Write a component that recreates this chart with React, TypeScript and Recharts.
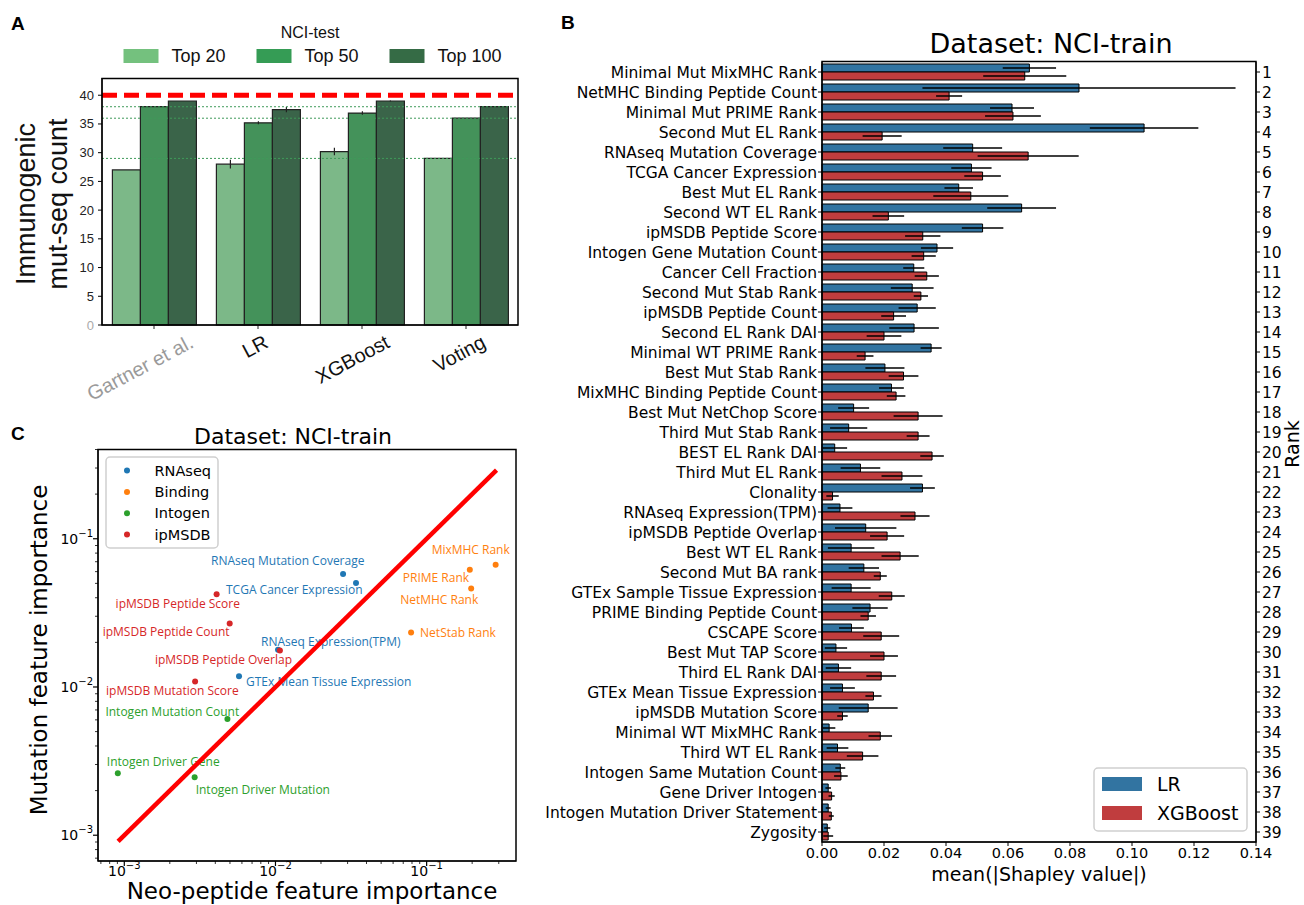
import React from 'react';
import {
    BarChart, Bar, XAxis, YAxis, ReferenceLine, ErrorBar, ScatterChart, Scatter
} from 'recharts';

// ---------- Panel A: immunogenic mut-seq counts on NCI-test ----------
const methods = ['Gartner et al.', 'LR', 'XGBoost', 'Voting'];
const top20 = [27, 28, 30.2, 29];
const top20Err = [0, 0.75, 0.65, 0];
const top50 = [38, 35.2, 36.9, 36];
const top50Err = [0, 0.25, 0.3, 0];
const top100 = [39, 37.5, 39, 38];
const top100Err = [0, 0.45, 0.1, 0];
const countTicks = [0, 5, 10, 15, 20, 25, 30, 35, 40];
const totalImmunogenic = 40;

// ---------- Panel B: mean |Shapley value| per feature ----------
const features = [
    'Minimal Mut MixMHC Rank', 'NetMHC Binding Peptide Count', 'Minimal Mut PRIME Rank', 'Second Mut EL Rank',
    'RNAseq Mutation Coverage', 'TCGA Cancer Expression', 'Best Mut EL Rank', 'Second WT EL Rank',
    'ipMSDB Peptide Score', 'Intogen Gene Mutation Count', 'Cancer Cell Fraction', 'Second Mut Stab Rank',
    'ipMSDB Peptide Count', 'Second EL Rank DAI', 'Minimal WT PRIME Rank', 'Best Mut Stab Rank',
    'MixMHC Binding Peptide Count', 'Best Mut NetChop Score', 'Third Mut Stab Rank', 'BEST EL Rank DAI',
    'Third Mut EL Rank', 'Clonality', 'RNAseq Expression(TPM)', 'ipMSDB Peptide Overlap',
    'Best WT EL Rank', 'Second Mut BA rank', 'GTEx Sample Tissue Expression', 'PRIME Binding Peptide Count',
    'CSCAPE Score', 'Best Mut TAP Score', 'Third EL Rank DAI', 'GTEx Mean Tissue Expression',
    'ipMSDB Mutation Score', 'Minimal WT MixMHC Rank', 'Third WT EL Rank', 'Intogen Same Mutation Count',
    'Gene Driver Intogen', 'Intogen Mutation Driver Statement', 'Zygosity',
];
const lrShap = [
    0.0669, 0.0829, 0.0613, 0.1039, 0.0486, 0.0482, 0.0441, 0.0644, 0.0518, 0.0371,
    0.0296, 0.0291, 0.0307, 0.0297, 0.0352, 0.0203, 0.0224, 0.0102, 0.0086, 0.0041,
    0.0124, 0.0324, 0.0058, 0.0141, 0.0094, 0.0135, 0.0094, 0.0155, 0.0095, 0.0045,
    0.0053, 0.0066, 0.0149, 0.0023, 0.005, 0.0059, 0.002, 0.002, 0.0017,
];
const lrShapErr = [
    0.0086, 0.0505, 0.0071, 0.0175, 0.0095, 0.0065, 0.0046, 0.0111, 0.0067, 0.0052,
    0.0034, 0.0069, 0.006, 0.008, 0.0034, 0.0063, 0.004, 0.005, 0.006, 0.004,
    0.0064, 0.004, 0.004, 0.0099, 0.0075, 0.0049, 0.0063, 0.0057, 0.004, 0.0036,
    0.0041, 0.004, 0.0095, 0.002, 0.0035, 0.0016, 0.0009, 0.0008, 0.001,
];
const xgbShap = [
    0.0654, 0.041, 0.0616, 0.0194, 0.0665, 0.0518, 0.048, 0.0214, 0.0325, 0.0328,
    0.0338, 0.0319, 0.0231, 0.02, 0.0139, 0.0263, 0.0239, 0.031, 0.031, 0.0355,
    0.0258, 0.0034, 0.03, 0.021, 0.0252, 0.0188, 0.0225, 0.0149, 0.0191, 0.02,
    0.0191, 0.0166, 0.0066, 0.0188, 0.0131, 0.0061, 0.0031, 0.003, 0.002,
];
const xgbShapErr = [
    0.0134, 0.0042, 0.009, 0.0063, 0.0163, 0.0059, 0.0121, 0.0051, 0.0057, 0.0039,
    0.0039, 0.0023, 0.004, 0.0056, 0.0027, 0.0048, 0.003, 0.0079, 0.0037, 0.0038,
    0.0066, 0.002, 0.0047, 0.0055, 0.006, 0.0021, 0.0042, 0.0025, 0.0058, 0.0045,
    0.0048, 0.0026, 0.0017, 0.0038, 0.0051, 0.0022, 0.001, 0.0008, 0.0016,
];
const shapTicks = [0, 0.02, 0.04, 0.06, 0.08, 0.1, 0.12, 0.14];

// ---------- Panel C: neo-peptide vs mutation feature importance ----------
const rnaseqNames = ['RNAseq Mutation Coverage', 'TCGA Cancer Expression', 'RNAseq Expression(TPM)', 'GTEx Mean Tissue Expression'];
const rnaseqNeo = [0.028, 0.0341, 0.0104, 0.00574];
const rnaseqMut = [0.0578, 0.0502, 0.0178, 0.0118];
const bindingNames = ['MixMHC Rank', 'PRIME Rank', 'NetMHC Rank', 'NetStab Rank'];
const bindingNeo = [0.286, 0.193, 0.197, 0.0789];
const bindingMut = [0.0667, 0.0618, 0.0462, 0.0233];
const intogenNames = ['Intogen Mutation Count', 'Intogen Driver Gene', 'Intogen Driver Mutation'];
const intogenNeo = [0.00481, 0.000906, 0.00292];
const intogenMut = [0.00608, 0.00262, 0.00246];
const ipmsdbNames = ['ipMSDB Peptide Score', 'ipMSDB Peptide Count', 'ipMSDB Peptide Overlap', 'ipMSDB Mutation Score'];
const ipmsdbNeo = [0.00408, 0.00498, 0.0107, 0.00294];
const ipmsdbMut = [0.0423, 0.0268, 0.0176, 0.0109];
const diagonalEnds = [0.00091, 0.29];
const decades = [0.0001, 0.001, 0.01, 0.1];

// label placement (px offset of label start from its point)
const labelNudge: Record<string, [number, number]> = {
    'RNAseq Mutation Coverage': [-132, -14],
    'TCGA Cancer Expression': [-130, 6],
    'RNAseq Expression(TPM)': [-17, -8],
    'GTEx Mean Tissue Expression': [7, 5],
    'MixMHC Rank': [-64, -15],
    'PRIME Rank': [-67, 8],
    'NetMHC Rank': [-71, 11],
    'NetStab Rank': [9, 0],
    'Intogen Mutation Count': [-122, -8],
    'Intogen Driver Gene': [-11, -12],
    'Intogen Driver Mutation': [1, 12],
    'ipMSDB Peptide Score': [-101, 9],
    'ipMSDB Peptide Count': [-127, 8],
    'ipMSDB Peptide Overlap': [-125, 9],
    'ipMSDB Mutation Score': [-89, 9],
};

const ARIAL = '"Liberation Sans", Arial, sans-serif';
const DEJAVU = '"DejaVu Sans", sans-serif';
const GREEN_BARS = ['#7cb888', '#44925a', '#3a6449'];
const GREEN_LEGEND = ['#74c17e', '#359c55', '#356b45'];
const LR_BLUE = '#3274a1';
const XGB_RED = '#c03d3e';
const C_COLORS = { rnaseq: '#1f77b4', binding: '#ff7f0e', intogen: '#2ca02c', ipmsdb: '#d62728' };

const methodData = methods.map((m, i) => ({
    method: m,
    top20: top20[i], top20Err: top20Err[i],
    top50: top50[i], top50Err: top50Err[i],
    top100: top100[i], top100Err: top100Err[i],
}));
const votingRefs = [top100[3], top50[3], top20[3]];

const shapData = features.map((name, i) => ({
    name, rank: i + 1,
    lr: lrShap[i], lrErr: lrShapErr[i],
    xgb: xgbShap[i], xgbErr: xgbShapErr[i],
}));

const toPoints = (names: string[], xs: number[], ys: number[]) => names.map((name, i) => ({ name, x: xs[i], y: ys[i] }));
const diagonalData = diagonalEnds.map(v => ({ x: v, y: v }));

const logMin = 0.00067;
const logMaxX = 0.39;
const logMaxY = 0.40;
const logTicks: number[] = [];
decades.forEach(d => {
    [1, 2, 3, 4, 5, 6, 7, 8, 9].forEach(k => {
        const v = +(d * k).toPrecision(3);
        if (v >= logMin && v <= logMaxY) logTicks.push(v);
    });
});

let measureCtx: CanvasRenderingContext2D | null = null;
const textWidth = (s: string, font: string) => {
    if (!measureCtx) measureCtx = document.createElement('canvas').getContext('2d');
    if (!measureCtx) return s.length * 10;
    measureCtx.font = font;
    return measureCtx.measureText(s).width;
};

const MethodTick = (props: any) => {
    const { x, y, payload } = props;
    const label: string = payload.value;
    const fs = 20;
    const w = textWidth(label, `${fs}px "Liberation Sans"`);
    const a = (28 * Math.PI) / 180;
    const cx = x - 0.12 * w;
    const cy = y + 7 + (w * Math.sin(a) + fs * 0.95 * Math.cos(a)) / 2;
    return (
        <g>
            <line x1={x} y1={y} x2={x} y2={y + 4} stroke="#222" />
            <text
                transform={`translate(${cx},${cy}) rotate(-28)`}
                textAnchor="middle"
                dominantBaseline="central"
                fontSize={fs}
                fill={label === 'Gartner et al.' ? '#9a9a9a' : '#111'}
            >
                {label}
            </text>
        </g>
    );
};

const CountTick = (props: any) => {
    const { x, y, payload } = props;
    return (
        <text x={x} y={y} textAnchor="end" dominantBaseline="central" fontSize={13}
            fill={payload.value === 0 ? '#aaa' : '#222'}>
            {payload.value}
        </text>
    );
};

const isDecade = (v: number) => Math.abs(Math.log10(v) - Math.round(Math.log10(v))) < 1e-6;

const LogTickX = (props: any) => {
    const { x, y, payload } = props;
    const v = payload.value;
    const major = isDecade(v);
    const exp = Math.round(Math.log10(v));
    return (
        <g>
            <line x1={x} x2={x} y1={y} y2={y + (major ? 5 : 3)} stroke="#000" strokeWidth={major ? 1.2 : 0.8} />
            {major && (
                <text x={x} y={y + 15} textAnchor="middle" fontSize={14} fill="#000">
                    10<tspan dy={-7} fontSize={10}>{'\u2212' + -exp}</tspan>
                </text>
            )}
        </g>
    );
};

const LogTickY = (props: any) => {
    const { x, y, payload } = props;
    const v = payload.value;
    const major = isDecade(v);
    const exp = Math.round(Math.log10(v));
    return (
        <g>
            <line x1={x} x2={x - (major ? 5 : 3)} y1={y} y2={y} stroke="#000" strokeWidth={major ? 1.2 : 0.8} />
            {major && (
                <text x={x - 5} y={y + 5} textAnchor="end" fontSize={14} fill="#000">
                    10<tspan dy={-7} fontSize={10}>{'\u2212' + -exp}</tspan>
                </text>
            )}
        </g>
    );
};

const labelledDot = (color: string) => (props: any) => {
    const { cx, cy, payload } = props;
    const [dx, dy] = labelNudge[payload.name] || [6, 0];
    return (
        <g>
            <circle cx={cx} cy={cy} r={3} fill={color} />
            <text x={cx + dx} y={cy + dy} dominantBaseline="central" fill={color}
                fontSize={12} fontFamily='"Open Sans", sans-serif'>
                {payload.name}
            </text>
        </g>
    );
};

const PanelA = () => (
    <div style={{ position: 'absolute', left: 0, top: 0, fontFamily: ARIAL }}>
        <BarChart width={540} height={420} data={methodData} barGap={0}
            margin={{ top: 78, right: 22, bottom: 35, left: 62 }}>
            <XAxis dataKey="method" height={60} interval={0} tickSize={0} tickMargin={0}
                tickLine={false} tick={<MethodTick />} stroke="#000" />
            <YAxis width={40} domain={[0, 43]} ticks={countTicks} interval={0} tickSize={4}
                tickMargin={4} tick={<CountTick />} stroke="#000" />
            {['top20', 'top50', 'top100'].map((k, i) => (
                <Bar key={k} dataKey={k} fill={GREEN_BARS[i]} stroke="#222" strokeWidth={1.2}
                    isAnimationActive={false}>
                    <ErrorBar dataKey={`${k}Err`} width={0} stroke="#222" strokeWidth={1.2} />
                </Bar>
            ))}
            {votingRefs.map(v => (
                <ReferenceLine key={v} y={v} stroke="#3f9a5a" strokeWidth={1} strokeDasharray="2 2" />
            ))}
            <ReferenceLine y={totalImmunogenic} stroke="#ff0000" strokeWidth={5} strokeDasharray="15 7" />
        </BarChart>
    </div>
);

const PanelB = () => (
    <div style={{ position: 'absolute', left: 530, top: 0, fontFamily: DEJAVU }}>
        <BarChart width={774} height={905} data={shapData} layout="vertical" barGap={0}
            margin={{ top: 62, right: 18, bottom: 23, left: 4 }}>
            <XAxis type="number" domain={[0, 0.14]} ticks={shapTicks} interval={0}
                tickFormatter={(v: number) => v.toFixed(2)} height={40} tickSize={4} tickMargin={2}
                tick={{ fill: '#000', fontSize: 14.5 }} stroke="#000" />
            <YAxis yAxisId="left" type="category" dataKey="name" width={288} interval={0}
                tickSize={4} tickMargin={1} tick={{ fill: '#000', fontSize: 15.5 }} stroke="#000" />
            <YAxis yAxisId="right" orientation="right" type="category" dataKey="rank" width={30}
                interval={0} tickSize={4} tickMargin={2} tick={{ fill: '#000', fontSize: 15.5 }} stroke="#000" />
            <Bar yAxisId="left" dataKey="lr" fill={LR_BLUE} stroke="#000" strokeWidth={1} isAnimationActive={false}>
                <ErrorBar dataKey="lrErr" direction="x" width={0} stroke="#000" strokeWidth={1.5} />
            </Bar>
            <Bar yAxisId="left" dataKey="xgb" fill={XGB_RED} stroke="#000" strokeWidth={1} isAnimationActive={false}>
                <ErrorBar dataKey="xgbErr" direction="x" width={0} stroke="#000" strokeWidth={1.5} />
            </Bar>
        </BarChart>
    </div>
);

const PanelC = () => (
    <div style={{ position: 'absolute', left: 0, top: 420, fontFamily: DEJAVU }}>
        <ScatterChart width={540} height={485} margin={{ top: 29.5, right: 24, bottom: 14, left: 38 }}>
            <XAxis type="number" dataKey="x" scale="log" domain={[logMin, logMaxX]} allowDataOverflow
                ticks={logTicks.filter(t => t <= logMaxX)} interval={0} height={30} tickSize={0} tickMargin={0}
                tickLine={false} tick={<LogTickX />} stroke="#000" />
            <YAxis type="number" dataKey="y" scale="log" domain={[logMin, logMaxY]} allowDataOverflow
                ticks={logTicks} interval={0} width={60} tickSize={0} tickMargin={0}
                tickLine={false} tick={<LogTickY />} stroke="#000" />
            <Scatter data={toPoints(rnaseqNames, rnaseqNeo, rnaseqMut)} shape={labelledDot(C_COLORS.rnaseq)} isAnimationActive={false} />
            <Scatter data={toPoints(bindingNames, bindingNeo, bindingMut)} shape={labelledDot(C_COLORS.binding)} isAnimationActive={false} />
            <Scatter data={toPoints(intogenNames, intogenNeo, intogenMut)} shape={labelledDot(C_COLORS.intogen)} isAnimationActive={false} />
            <Scatter data={toPoints(ipmsdbNames, ipmsdbNeo, ipmsdbMut)} shape={labelledDot(C_COLORS.ipmsdb)} isAnimationActive={false} />
            <Scatter data={diagonalData} line={{ stroke: '#ff0000', strokeWidth: 4.5 }} shape={() => <g />}
                isAnimationActive={false} />
        </ScatterChart>
    </div>
);

const Overlay = () => (
    <svg width={1304} height={905} style={{ position: 'absolute', left: 0, top: 0, pointerEvents: 'none' }}>
        {/* panel letters */}
        <g fontFamily={ARIAL} fontWeight="bold" fontSize={19} fill="#000">
            <text x={11} y={30}>A</text>
            <text x={561} y={29}>B</text>
            <text x={11} y={440}>C</text>
        </g>

        {/* panel A frame, legend, y label */}
        <rect x={102} y={78.5} width={416} height={246.5} fill="none" stroke="#000" strokeWidth={1.5} />
        <g fontFamily={ARIAL} fill="#111">
            <text x={310} y={37.5} textAnchor="middle" fontSize={16}>NCI-test</text>
            {['Top 20', 'Top 50', 'Top 100'].map((t, i) => (
                <g key={t}>
                    <rect x={123.5 + i * 133} y={49} width={35} height={14} fill={GREEN_LEGEND[i]} />
                    <text x={171.5 + i * 133} y={62} fontSize={18}>{t}</text>
                </g>
            ))}
            <text transform="translate(35,204) rotate(-90)" textAnchor="middle" fontSize={27}>Immunogenic</text>
            <text transform="translate(67,204) rotate(-90)" textAnchor="middle" fontSize={27}>mut-seq count</text>
        </g>

        {/* panel B frame, title, labels, legend */}
        <rect x={822} y={61.5} width={434} height={780.5} fill="none" stroke="#000" strokeWidth={1.5} />
        <g fontFamily={DEJAVU} fill="#000">
            <text x={1051} y={53} textAnchor="middle" fontSize={27}>Dataset: NCI-train</text>
            <text x={1039} y={881} textAnchor="middle" fontSize={19}>mean(|Shapley value|)</text>
            <text transform="translate(1299,444) rotate(-90)" textAnchor="middle" fontSize={19}>Rank</text>
            <rect x={1094} y={768} width={153} height={63} rx={4} fill="#fff" fillOpacity={0.85} stroke="#cfcfcf" strokeWidth={1.5} />
            <rect x={1102} y={777} width={40} height={14} fill={LR_BLUE} />
            <rect x={1102} y={806} width={40} height={14} fill={XGB_RED} />
            <text x={1157} y={784} dominantBaseline="central" fontSize={19}>LR</text>
            <text x={1157} y={813} dominantBaseline="central" fontSize={19}>XGBoost</text>
        </g>

        {/* panel C frame, title, labels, legend */}
        <rect x={98} y={449.5} width={418} height={411.5} fill="none" stroke="#000" strokeWidth={1.5} />
        <g fontFamily={DEJAVU} fill="#000">
            <text x={293} y={444} textAnchor="middle" fontSize={22}>Dataset: NCI-train</text>
            <text x={312} y={899} textAnchor="middle" fontSize={23}>Neo-peptide feature importance</text>
            <text transform="translate(47,650) rotate(-90)" textAnchor="middle" fontSize={23}>Mutation feature importance</text>
            <rect x={106} y={457} width={112} height={91} rx={4} fill="#fff" fillOpacity={0.85} stroke="#cfcfcf" strokeWidth={1.5} />
            {[
                ['RNAseq', C_COLORS.rnaseq], ['Binding', C_COLORS.binding],
                ['Intogen', C_COLORS.intogen], ['ipMSDB', C_COLORS.ipmsdb],
            ].map(([t, c], i) => (
                <g key={t}>
                    <circle cx={127} cy={470.6 + i * 21.3} r={3} fill={c} />
                    <text x={154.5} y={470.6 + i * 21.3} dominantBaseline="central" fontSize={14.5}>{t}</text>
                </g>
            ))}
        </g>
    </svg>
);

const App: React.FC = () => (
    <div style={{ position: 'absolute', left: 0, top: 0, width: 1304, height: 905, background: '#fff' }}>
        <PanelA />
        <PanelB />
        <PanelC />
        <Overlay />
    </div>
);

export default App;
